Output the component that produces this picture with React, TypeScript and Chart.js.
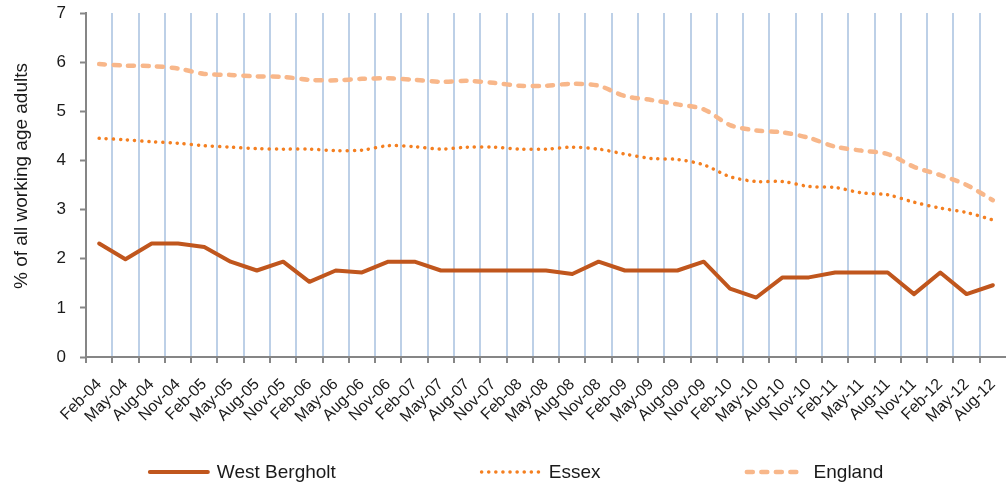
import React, { useEffect, useRef } from "react";
import { Chart, registerables } from "chart.js";

Chart.register(...registerables);

const categories = [
  "Feb-04", "May-04", "Aug-04", "Nov-04",
  "Feb-05", "May-05", "Aug-05", "Nov-05",
  "Feb-06", "May-06", "Aug-06", "Nov-06",
  "Feb-07", "May-07", "Aug-07", "Nov-07",
  "Feb-08", "May-08", "Aug-08", "Nov-08",
  "Feb-09", "May-09", "Aug-09", "Nov-09",
  "Feb-10", "May-10", "Aug-10", "Nov-10",
  "Feb-11", "May-11", "Aug-11", "Nov-11",
  "Feb-12", "May-12", "Aug-12",
];

const westBergholt = [
  2.31, 1.99, 2.31, 2.31, 2.24, 1.94, 1.76, 1.94, 1.53, 1.76, 1.72, 1.94,
  1.94, 1.76, 1.76, 1.76, 1.76, 1.76, 1.69, 1.94, 1.76, 1.76, 1.76, 1.94,
  1.39, 1.21, 1.62, 1.62, 1.72, 1.72, 1.72, 1.28, 1.72, 1.28, 1.46,
];

const essex = [
  4.45, 4.42, 4.38, 4.35, 4.30, 4.27, 4.24, 4.23, 4.23, 4.20, 4.21, 4.30,
  4.28, 4.23, 4.27, 4.27, 4.23, 4.23, 4.27, 4.23, 4.13, 4.04, 4.02, 3.91,
  3.67, 3.57, 3.57, 3.47, 3.45, 3.34, 3.30, 3.15, 3.03, 2.94, 2.79,
];

const england = [
  5.96, 5.93, 5.92, 5.87, 5.76, 5.74, 5.71, 5.70, 5.64, 5.63, 5.66, 5.67,
  5.64, 5.60, 5.62, 5.58, 5.52, 5.52, 5.56, 5.52, 5.31, 5.23, 5.14, 5.04,
  4.72, 4.61, 4.57, 4.46, 4.28, 4.20, 4.13, 3.87, 3.70, 3.50, 3.19,
];

const yTitle = "% of all working age adults";

const FONT = '"Liberation Sans", Arial, sans-serif';
const TEXT = "#1a1a1a";
const AXIS = "#868686";
const GRID = "#BDD0E7";

const titlePlugin = {
  id: "yTitle",
  afterDraw(chart: any) {
    const ctx = chart.ctx;
    const area = chart.chartArea;
    ctx.save();
    ctx.font = `19px ${FONT}`;
    ctx.fillStyle = TEXT;
    ctx.textAlign = "center";
    ctx.textBaseline = "middle";
    ctx.translate(22, (area.top + area.bottom) / 2 - 9);
    ctx.rotate(-Math.PI / 2);
    ctx.fillText(yTitle, 0, 0);
    ctx.restore();
  },
};

const legendPlugin = {
  id: "customLegend",
  afterDraw(chart: any) {
    const ctx = chart.ctx;
    ctx.save();
    ctx.font = `19px ${FONT}`;
    const items = chart.data.datasets.map((ds: any) => ({
      label: ds.label,
      color: ds.borderColor,
      dash: ds.borderDash || [],
      width: ds.borderWidth,
      cap: ds.borderCapStyle || "butt",
    }));
    const lineLen = 62;
    const textGap = 7;
    const itemGap = 144;
    const widths = items.map(
      (it: any) => lineLen + textGap + ctx.measureText(it.label).width
    );
    const total =
      widths.reduce((a: number, b: number) => a + b, 0) +
      itemGap * (items.length - 1);
    let x = chart.width * 0.5125 - total / 2;
    const y = chart.height - 16;
    items.forEach((it: any, i: number) => {
      ctx.beginPath();
      ctx.strokeStyle = it.color;
      ctx.lineWidth = it.width;
      ctx.lineCap = it.cap;
      ctx.setLineDash(it.dash);
      const inset = it.cap === "round" ? it.width / 2 : 0;
      ctx.moveTo(x + inset, y);
      ctx.lineTo(x + lineLen - inset, y);
      ctx.stroke();
      ctx.setLineDash([]);
      ctx.fillStyle = TEXT;
      ctx.textBaseline = "middle";
      ctx.textAlign = "left";
      ctx.fillText(it.label, x + lineLen + textGap, y + 1);
      x += widths[i] + itemGap;
    });
    ctx.restore();
  },
};

export default function App() {
  const canvasRef = useRef<HTMLCanvasElement | null>(null);

  useEffect(() => {
    if (!canvasRef.current) return;
    const chart = new Chart(canvasRef.current, {
      type: "line",
      data: {
        labels: categories,
        datasets: [
          {
            label: "West Bergholt",
            data: westBergholt,
            borderColor: "#C0561D",
            borderWidth: 4,
            borderCapStyle: "round",
            borderJoinStyle: "round",
            pointRadius: 0,
            tension: 0,
          },
          {
            label: "Essex",
            data: essex,
            borderColor: "#F47F20",
            borderWidth: 3.5,
            borderDash: [0.1, 7],
            borderCapStyle: "round",
            pointRadius: 0,
            tension: 0.3,
          },
          {
            label: "England",
            data: england,
            borderColor: "#F8B78A",
            borderWidth: 4.5,
            borderDash: [6, 8.5],
            borderCapStyle: "round",
            pointRadius: 0,
            tension: 0.3,
          },
        ] as any,
      },
      options: {
        animation: false,
        responsive: false,
        devicePixelRatio: 1,
        layout: { padding: { top: 13, right: 0, bottom: 45, left: 0 } },
        plugins: {
          legend: { display: false },
          tooltip: { enabled: false },
        },
        scales: {
          x: {
            type: "category",
            offset: true,
            grid: {
              offset: true,
              drawOnChartArea: true,
              drawTicks: true,
              tickLength: 6,
              lineWidth: 2,
              color: (c: any) =>
                c.type !== "tick" || c.index === 0 ? "rgba(0,0,0,0)" : GRID,
              tickColor: (c: any) =>
                c.type !== "tick" ? "rgba(0,0,0,0)" : AXIS,
              tickWidth: 2,
            },
            border: { display: true, color: AXIS, width: 2 },
            ticks: {
              autoSkip: false,
              maxRotation: 45,
              minRotation: 45,
              padding: 12,
              color: TEXT,
              font: { family: FONT, size: 16 },
            },
            afterFit: (scale: any) => {
              scale.height = 86;
              scale.paddingLeft = 0;
              scale.paddingRight = 0;
            },
          },
          y: {
            min: 0,
            max: 7,
            ticks: {
              stepSize: 1,
              padding: 14,
              color: TEXT,
              font: { family: FONT, size: 17 },
            },
            grid: {
              drawOnChartArea: false,
              drawTicks: true,
              tickLength: 6,
              tickColor: AXIS,
              tickWidth: 2,
            },
            border: { display: true, color: AXIS, width: 2 },
            title: { display: false },
            afterFit: (scale: any) => {
              scale.width = 86;
              scale.paddingTop = 0;
              scale.paddingBottom = 0;
            },
          },
        },
      },
      plugins: [legendPlugin, titlePlugin],
    });
    return () => chart.destroy();
  }, []);

  return (
    <div
      style={{
        position: "fixed",
        left: 0,
        top: 0,
        width: 1006,
        height: 488,
        background: "#ffffff",
      }}
    >
      <canvas
        ref={canvasRef}
        width={1006}
        height={488}
        style={{ display: "block", width: 1006, height: 488 }}
      />
    </div>
  );
}
